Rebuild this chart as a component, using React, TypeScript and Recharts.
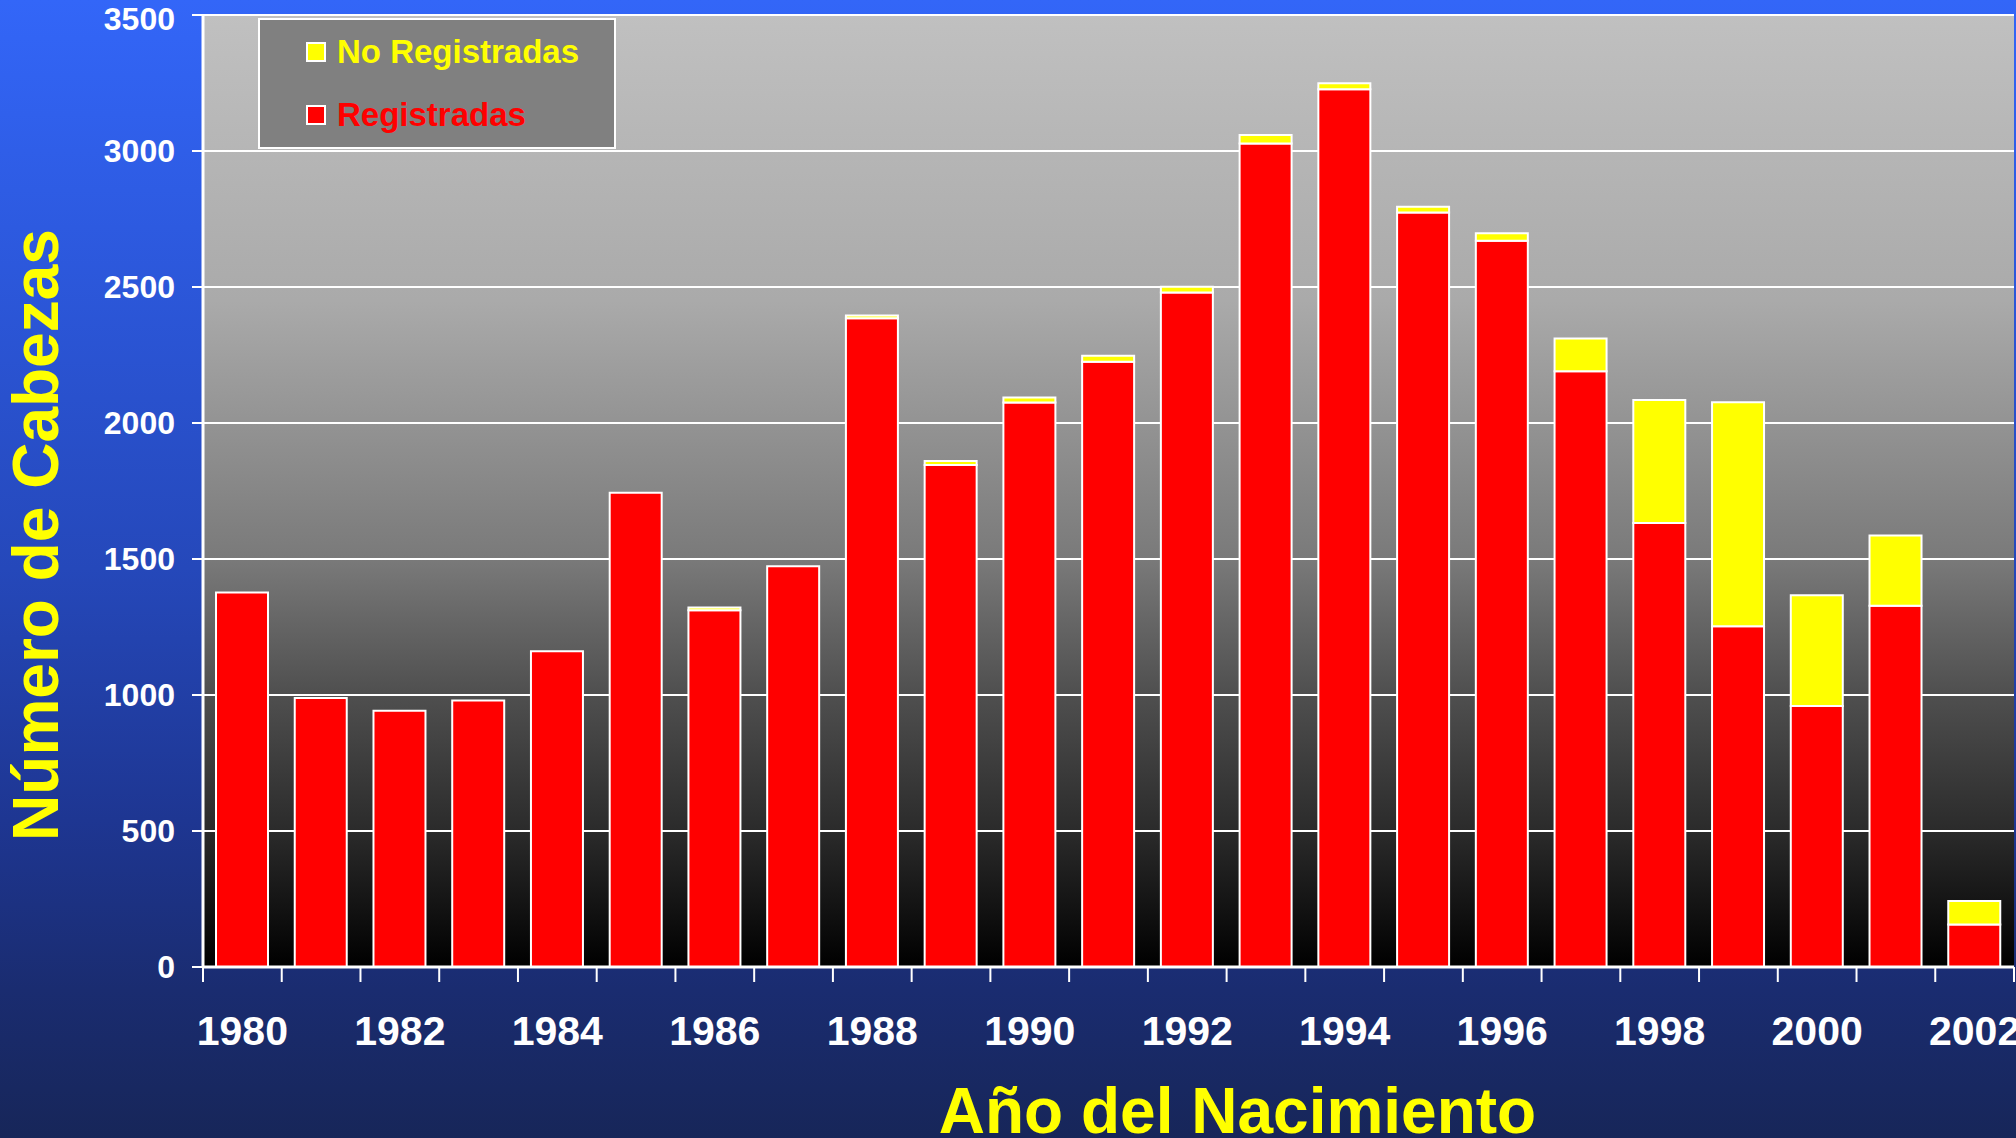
import React from 'react';
import { BarChart, Bar, XAxis, YAxis, CartesianGrid, Legend } from 'recharts';

// Año del nacimiento
const years = [
  '1980', '1981', '1982', '1983', '1984', '1985', '1986', '1987', '1988', '1989', '1990', '1991',
  '1992', '1993', '1994', '1995', '1996', '1997', '1998', '1999', '2000', '2001', '2002',
];

// Número de cabezas registradas
const registradas = [
  1377, 989, 942, 980, 1161, 1744, 1312, 1473, 2385, 1846, 2075, 2225,
  2480, 3028, 3227, 2774, 2670, 2190, 1632, 1253, 960, 1328, 156,
];

// Número de cabezas no registradas
const noRegistradas = [
  0, 0, 0, 0, 0, 0, 10, 0, 10, 14, 19, 22,
  21, 31, 22, 21, 28, 121, 453, 823, 407, 258, 87,
];

const yTicks = [0, 500, 1000, 1500, 2000, 2500, 3000, 3500];

const legendItems = [
  { name: 'No Registradas', color: '#FFFF00' },
  { name: 'Registradas', color: '#FF0000' },
];

const data = years.map((year, i) => ({
  year,
  reg: registradas[i],
  noreg: noRegistradas[i],
}));

const FONT = '"Liberation Sans", Arial, sans-serif';

// x axis: labels every other year, tick marks on the category edges
const YearTick = (props: any) => {
  const { x, y, payload, index } = props;
  const half = payload && payload.offset ? payload.offset : 39.4;
  const last = index === years.length - 1;
  return (
    <g>
      <line x1={x - half} x2={x - half} y1={y} y2={y + 15} stroke="#fff" strokeWidth={2} />
      {last && <line x1={x + half} x2={x + half} y1={y} y2={y + 15} stroke="#fff" strokeWidth={2} />}
      {index % 2 === 0 && (
        <text x={x} y={y + 78} textAnchor="middle" fill="#fff" fontSize={41} fontWeight={700} fontFamily={FONT}>
          {payload.value}
        </text>
      )}
    </g>
  );
};

const LegendBox = () => (
  <div
    style={{
      position: 'relative',
      boxSizing: 'border-box',
      width: 358,
      height: 131,
      background: '#808080',
      border: '2px solid #fff',
      fontFamily: FONT,
    }}
  >
    {legendItems.map((item, i) => (
      <div
        key={item.name}
        style={{
          position: 'absolute',
          left: 46,
          top: 12 + i * 63,
          height: 40,
          display: 'flex',
          alignItems: 'center',
        }}
      >
        <span
          style={{
            display: 'inline-block',
            boxSizing: 'border-box',
            width: 20,
            height: 20,
            background: item.color,
            border: '2px solid #fff',
            marginRight: 11,
          }}
        />
        <span style={{ color: item.color, fontSize: 33, fontWeight: 700, lineHeight: '40px' }}>{item.name}</span>
      </div>
    ))}
  </div>
);

const App: React.FC = () => {
  return (
    <div
      style={{
        position: 'fixed',
        left: 0,
        top: 0,
        width: 2016,
        height: 1138,
        overflow: 'hidden',
        background: 'linear-gradient(to bottom, #3366F8 0%, #2D5AE0 20%, #2548BA 50%, #1E3692 72%, #1A2C70 87%, #172659 100%)',
      }}
    >
      <BarChart
        width={2016}
        height={1138}
        data={data}
        margin={{ top: 15, right: 2, bottom: 0, left: 0 }}
        barSize={52}
      >
        <defs>
          <linearGradient id="plotBg" x1="0" y1="0" x2="0" y2="1">
            <stop offset="0%" stopColor="#C0C0C0" />
            <stop offset="30%" stopColor="#AAAAAA" />
            <stop offset="57%" stopColor="#7A7A7A" />
            <stop offset="71%" stopColor="#505050" />
            <stop offset="86%" stopColor="#2A2A2A" />
            <stop offset="100%" stopColor="#000000" />
          </linearGradient>
        </defs>
        <CartesianGrid vertical={false} stroke="#fff" strokeWidth={2} fill="url(#plotBg)" fillOpacity={1} />
        <XAxis
          dataKey="year"
          height={171}
          interval={0}
          tickLine={false}
          tickSize={0}
          tickMargin={0}
          axisLine={{ stroke: '#fff', strokeWidth: 3 }}
          tick={<YearTick />}
          label={{
            value: 'Año del Nacimiento',
            position: 'insideBottom',
            offset: 5,
            dx: 129,
            fill: '#FFFF00',
            fontSize: 64,
            fontWeight: 700,
            fontFamily: FONT,
          }}
        />
        <YAxis
          width={203}
          domain={[0, 3500]}
          ticks={yTicks}
          tickSize={11}
          tickMargin={17}
          tickLine={{ stroke: '#fff', strokeWidth: 2 }}
          axisLine={{ stroke: '#fff', strokeWidth: 3 }}
          tick={{ fill: '#fff', fontSize: 32, fontWeight: 700, fontFamily: FONT }}
          label={{
            value: 'Número de Cabezas',
            angle: -90,
            position: 'center',
            dx: -66,
            dy: 44,
            fill: '#FFFF00',
            fontSize: 64,
            fontWeight: 700,
            fontFamily: FONT,
          }}
        />
        <Legend
          layout="vertical"
          align="center"
          verticalAlign="middle"
          wrapperStyle={{ top: 18, left: 258, width: 358, height: 131 }}
          content={() => <LegendBox />}
        />
        <Bar dataKey="reg" name="Registradas" stackId="a" fill="#FF0000" stroke="#fff" strokeWidth={2} isAnimationActive={false} />
        <Bar dataKey="noreg" name="No Registradas" stackId="a" fill="#FFFF00" stroke="#fff" strokeWidth={2} isAnimationActive={false} />
      </BarChart>
    </div>
  );
};

export default App;
